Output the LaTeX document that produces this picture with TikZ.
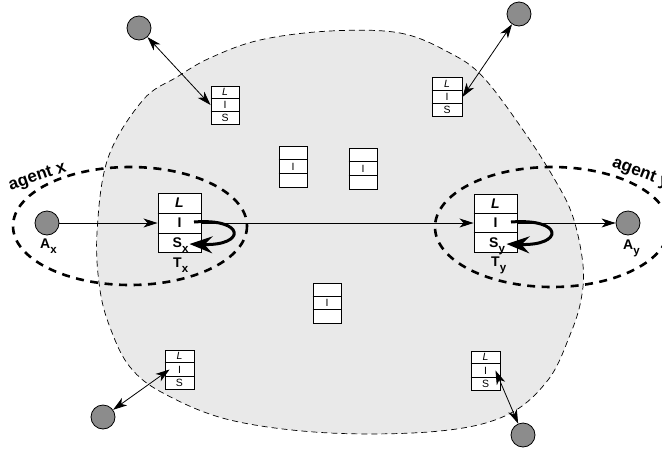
\documentclass[tikz,border=0pt]{standalone}
\usepackage{fontspec}
\setmainfont{Liberation Sans}
\usetikzlibrary{arrows.meta,calc}

\definecolor{regionfill}{HTML}{E9E9E9}
\definecolor{agentgray}{HTML}{8C8C8C}

% lowered subscript letter in the bold labels
\newcommand\lowsub[1]{\raisebox{-0.33em}{\fontsize{11.5pt}{11.5pt}\selectfont #1}}

% a three-row tuple box: name, centre x, centre y, width, height
\newcommand\tripbox[5]{%
  \node[tbox, minimum width=#4pt, minimum height=#5pt] (#1) at (#2,#3) {};
  \draw[divider] ($(#1.north west)!1/3!(#1.south west)$) -- ($(#1.north east)!1/3!(#1.south east)$);
  \draw[divider] ($(#1.north west)!2/3!(#1.south west)$) -- ($(#1.north east)!2/3!(#1.south east)$);
  \coordinate (#1-L) at ($(#1.north)!1/6!(#1.south)$);
  \coordinate (#1-I) at (#1.center);
  \coordinate (#1-S) at ($(#1.north)!5/6!(#1.south)$);
}

\tikzset{
  tbox/.style={draw, line width=0.9pt, fill=white, rectangle, inner sep=0pt},
  divider/.style={line width=0.9pt},
  agent/.style={circle, draw, line width=0.8pt, fill=agentgray, minimum size=24pt, inner sep=0pt},
  region/.style={dashed, dash pattern=on 6pt off 4pt, line width=0.7pt, fill=regionfill},
  scope ring/.style={line width=2.6pt, dash pattern=on 8pt off 6.5pt},
  flow/.style={line width=0.8pt, -{Stealth[length=14pt, width=9pt, inset=4pt]}},
  both/.style={line width=0.8pt, {Stealth[length=14pt, width=9pt, inset=4pt]}-{Stealth[length=14pt, width=9pt, inset=4pt]}},
  selfloop/.style={line width=3pt, -{Stealth[length=23pt, width=17pt, inset=8pt]}},
  bigtxt/.style={inner sep=0pt, font=\fontsize{14pt}{14pt}\selectfont\bfseries},
  smalltxt/.style={inner sep=0pt, font=\fontsize{10.5pt}{10.5pt}\selectfont},
  agentlbl/.style={inner sep=0pt, font=\fontsize{17pt}{17pt}\selectfont\bfseries},
}

\begin{document}
\begin{tikzpicture}[x=1pt, y=-1pt]
\useasboundingbox (0,0) rectangle (662,448);
\clip (0,0) rectangle (662,448);

% shared region
\draw[region] plot[smooth cycle, tension=0.6] coordinates {
  (330,31) (400,33) (450,53) (483,77) (523,130) (555,180) (573,217)
  (583,265) (581,300) (570,335) (548,380) (507,415) (440,431) (330,433)
  (230,420) (163,393) (130,367) (111,330) (100,290) (97,233) (108,158)
  (143,100) (177,77) (210,58) (260,40)};

% agent scopes
\draw[scope ring] (130,226) ellipse [x radius=117, y radius=59];
\draw[scope ring] (552,227) ellipse [x radius=117, y radius=60];

% tuple boxes
\tripbox{TX}{179.5}{223}{43}{59}
\tripbox{TY}{495.5}{223}{43}{58}
\tripbox{TL}{225}{105}{28}{38}
\tripbox{TR}{447}{97}{30}{39}
\tripbox{BL}{179.5}{369.5}{29}{39}
\tripbox{BR}{485.5}{370.5}{29}{39}
\tripbox{MA}{293}{166.5}{28}{41}
\tripbox{MB}{363}{168.5}{28}{41}
\tripbox{MC}{327}{303}{28}{40}

% agents
\node[agent] (AX) at (47,223) {};
\node[agent] (AY) at (628,223) {};
\node[agent] (C1) at (139,28) {};
\node[agent] (C2) at (519,14) {};
\node[agent] (C3) at (103,417) {};
\node[agent] (C4) at (523,435) {};

% tuple flow
\draw[flow] (AX) -- (TX.west);
\draw[flow] (TX.east) -- (TY.west);
\draw[flow] (TY.east) -- (AY);

\draw[both] (C1) -- (TL.west);
\draw[both] (C2) -- (TR.east);
\draw[both] (C3) -- ($(BL.west)+(5,0)$);
\draw[both] (C4) -- ($(BR.east)+(-5,0)$);

% local moves from I to S
\draw[selfloop] ($(TX.center)+(14.5,-1)$) .. controls ($(TX.center)+(66.5,-5)$) and ($(TX.center)+(66.5,23)$) .. ($(TX.center)+(10,21)$);
\draw[selfloop] ($(TY.center)+(15.5,-1)$) .. controls ($(TY.center)+(68.5,-5)$) and ($(TY.center)+(68.5,23)$) .. ($(TY.center)+(11,21)$);

% labels of the large boxes
\node[bigtxt] at (TX-L) {\itshape L};
\node[bigtxt] at (TX-I) {I};
\node[bigtxt, anchor=base west] at ($(TX-S)+(-7,5)$) {S\lowsub{x}};
\node[bigtxt, anchor=base west] at ($(TX.south)+(-6.5,15)$) {T\lowsub{x}};
\node[bigtxt] at (TY-L) {\itshape L};
\node[bigtxt] at (TY-I) {I};
\node[bigtxt, anchor=base west] at ($(TY-S)+(-6.5,5)$) {S\lowsub{y}};
\node[bigtxt, anchor=base west] at ($(TY.south)+(-4.5,14)$) {T\lowsub{y}};

% labels of the small boxes
\foreach \b in {TL,TR,BL,BR}{
  \node[smalltxt] at (\b-L) {\itshape L};
  \node[smalltxt] at (\b-I) {I};
  \node[smalltxt] at (\b-S) {S};
}
\foreach \b in {MA,MB,MC}{
  \node[smalltxt] at (\b-I) {I};
}

% agent labels
\node[bigtxt, anchor=base west] at ($(AX)+(-7,25.5)$) {A\lowsub{x}};
\node[bigtxt, anchor=base west] at ($(AY)+(-5,26.5)$) {A\lowsub{y}};
\node[agentlbl, anchor=base west, rotate=19] at (10.5,190.5) {agent x};
\node[agentlbl, anchor=base west, rotate=-21] at (611.3,166.4) {agent y};
\end{tikzpicture}
\end{document}
